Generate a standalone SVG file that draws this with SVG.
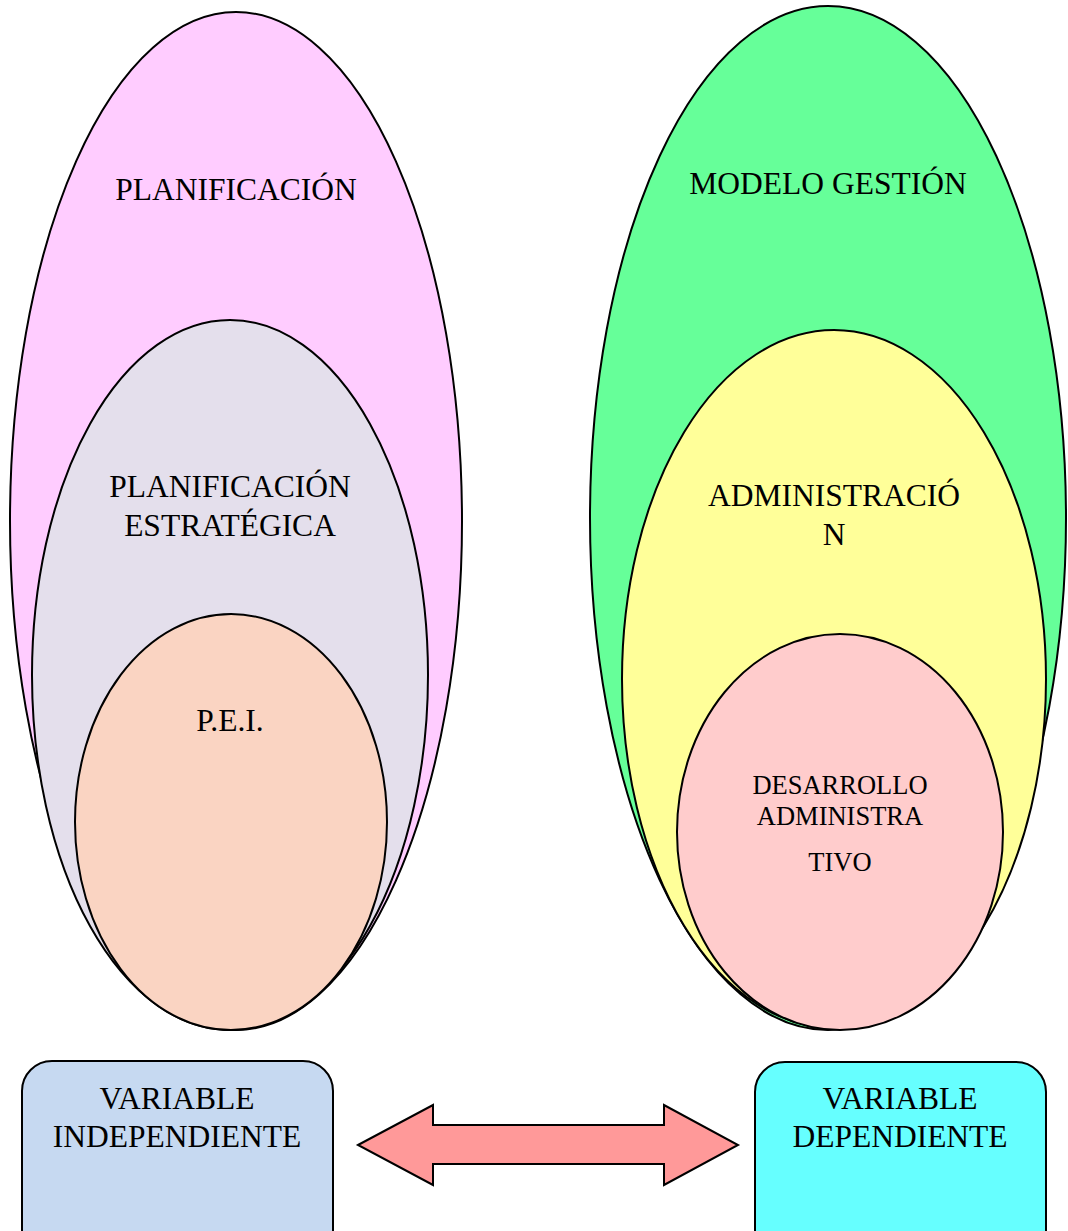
<svg xmlns="http://www.w3.org/2000/svg" width="1068" height="1231" viewBox="0 0 1068 1231">
<style>
.s{stroke:#000;stroke-width:2}
text{font-family:"Liberation Serif","Times New Roman",serif;font-size:31.5px;fill:#000;text-anchor:middle}
.sm{font-size:26.5px}
</style>
<rect width="1068" height="1231" fill="#fff"/>
<g id="planificacion"><ellipse class="s" cx="236" cy="521" rx="226" ry="509" fill="#FFCCFF"/><text x="236" y="200">PLANIFICACIÓN</text></g>
<g id="planificacion-estrategica"><ellipse class="s" cx="230" cy="675" rx="198" ry="355" fill="#E4DFEC"/><text x="230" y="497">PLANIFICACIÓN</text><text x="230" y="536">ESTRATÉGICA</text></g>
<g id="pei"><ellipse class="s" cx="231" cy="822" rx="156" ry="208" fill="#FAD4C2"/><text x="230" y="731">P.E.I.</text></g>
<g id="modelo-gestion"><ellipse class="s" cx="828" cy="518" rx="238" ry="512" fill="#66FF99"/><text x="828" y="194">MODELO GESTIÓN</text></g>
<g id="administracion"><ellipse class="s" cx="834" cy="679" rx="212" ry="349" fill="#FFFF99"/><text x="834" y="506">ADMINISTRACIÓ</text><text x="834" y="545">N</text></g>
<g id="desarrollo"><ellipse class="s" cx="840" cy="832" rx="163" ry="198" fill="#FFCCCC"/><text class="sm" x="840" y="794">DESARROLLO</text><text class="sm" x="840" y="825">ADMINISTRA</text><text class="sm" x="840" y="871">TIVO</text></g>
<g id="variable-independiente"><rect class="s" x="22" y="1061" width="311" height="200" rx="30" fill="#C6D9F1"/><text x="177" y="1109">VARIABLE</text><text x="177" y="1147">INDEPENDIENTE</text></g>
<g id="variable-dependiente"><rect class="s" x="755" y="1062" width="291" height="200" rx="30" fill="#66FFFF"/><text x="900" y="1109">VARIABLE</text><text x="900" y="1147">DEPENDIENTE</text></g>
<g id="connectors"><polygon class="s" points="358,1145 433,1105 433,1125 664,1125 664,1105 738,1145 664,1185 664,1164 433,1164 433,1185" fill="#FF9999" stroke-width="1.5"/></g>
</svg>
